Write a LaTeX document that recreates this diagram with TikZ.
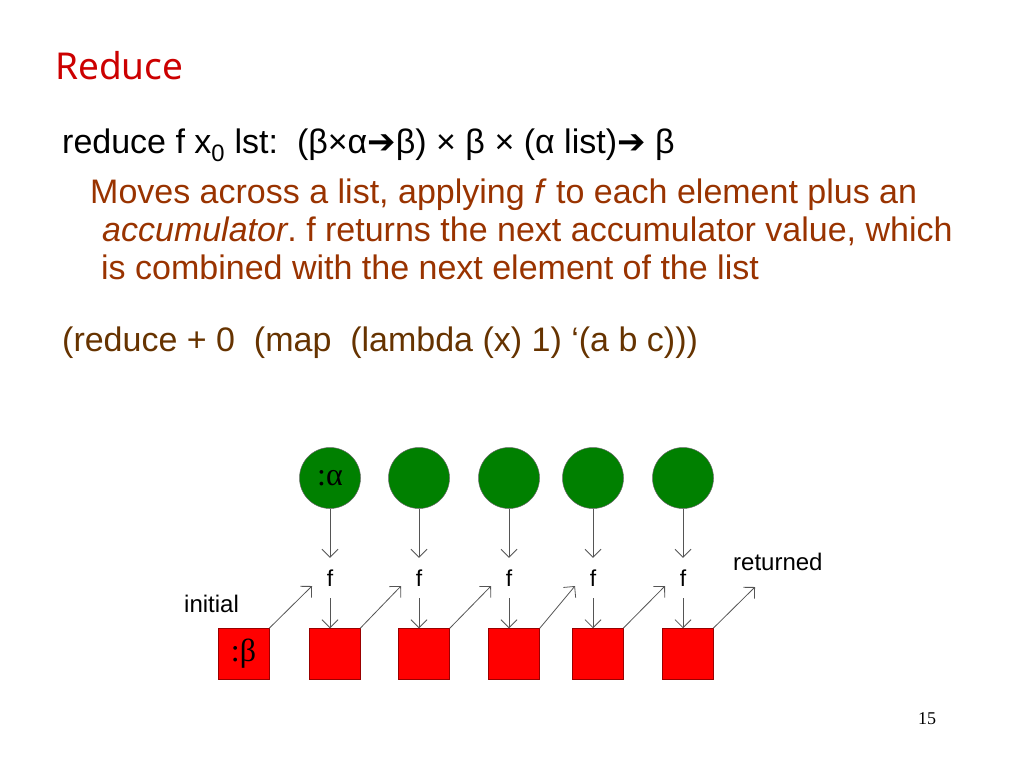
\documentclass[tikz,border=0pt]{standalone}
\usepackage{fontspec}
\setmainfont{Liberation Sans}
\newfontfamily\titlefont{Noto Sans}
\newfontfamily\serifgreek{Liberation Serif}
\newfontfamily\arrowfont{DejaVu Sans}
\usepackage{xcolor}
\definecolor{titlered}{RGB}{204, 0, 0}
\definecolor{notebrown}{RGB}{153, 51, 0}
\definecolor{codebrown}{RGB}{102, 51, 0}
\definecolor{elemgreen}{RGB}{0, 128, 0}
\definecolor{accred}{RGB}{255, 0, 0}
\definecolor{linegray}{RGB}{85, 85, 85}
\usetikzlibrary{arrows.meta, positioning, calc}
\frenchspacing

\newcommand{\bigto}{{\arrowfont ➔}}

\begin{document}
\begin{tikzpicture}[
    x=1pt, y=-1pt,
    line/.style={anchor=base west, inner sep=0pt, font=\fontsize{34}{38}\selectfont},
    elem/.style={circle, fill=elemgreen, draw=black!60, line width=0.5pt, minimum size=61pt, inner sep=0pt,
        font=\serifgreek\fontsize{32}{32}\selectfont},
    acc/.style={rectangle, fill=accred, draw=red!60!black, line width=0.5pt, minimum size=51pt, inner sep=0pt,
        font=\serifgreek\fontsize{32}{32}\selectfont},
    fun/.style={inner sep=0pt, minimum width=36pt, minimum height=40pt, font=\fontsize{23}{23}\selectfont},
    label/.style={anchor=base west, inner sep=0pt, font=\fontsize{24}{24}\selectfont},
    flow/.style={-{Straight Barb[length=8pt, width=16pt]}, linegray, line width=0.8pt}
]
    \useasboundingbox (0,0) rectangle (1024,768);

    % Title and text
    \node[anchor=base west, inner sep=0pt, text=titlered, font=\titlefont\fontsize{37}{37}\selectfont] (title) at (55,79) {Reduce};
    \node[line] (sig) at (62,153)
        {reduce f x\textsubscript{0} lst:\ \ (β×α\bigto β) × β × (α list)\bigto\ β};
    \node[line, text=notebrown] (desc1) at (90,203) {Moves across a list, applying \textit{f} to each element plus an};
    \node[line, text=notebrown] (desc2) at (102,241) {\textit{accumulator}. f returns the next accumulator value, which};
    \node[line, text=notebrown] (desc3) at (101,279) {is combined with the next element of the list};
    \node[line, text=codebrown] (code) at (62,351) {(reduce + 0\ \ (map\ \ (lambda (x) 1) ‘(a b c)))};

    % List elements
    \node[elem] (e1) at (330,478) {:α};
    \node[elem] (e2) at (419,478) {};
    \node[elem] (e3) at (509,478) {};
    \node[elem] (e4) at (593,478) {};
    \node[elem] (e5) at (683,478) {};

    % Applications of f
    \node[fun] (f1) at (330,578) {f};
    \node[fun] (f2) at (419,578) {f};
    \node[fun] (f3) at (509,578) {f};
    \node[fun] (f4) at (593,578) {f};
    \node[fun] (f5) at (683,578) {f};

    % Accumulators
    \node[acc] (a0) at (243.5,654) {:β};
    \node[acc] (a1) at (334.5,654) {};
    \node[acc] (a2) at (424,654) {};
    \node[acc] (a3) at (514,654) {};
    \node[acc] (a4) at (597.5,654) {};
    \node[acc] (a5) at (687.5,654) {};

    \node[label] (initial) at (184,612) {initial};
    \node[label] (returned) at (733,570) {returned};
    \coordinate (ret) at (755,587);

    \draw[flow] (e1) -- (f1.north);
    \draw[flow] (e2) -- (f2.north);
    \draw[flow] (e3) -- (f3.north);
    \draw[flow] (e4) -- (f4.north);
    \draw[flow] (e5) -- (f5.north);

    \draw[flow] (f1.south) -- (f1.south |- a1.north);
    \draw[flow] (f2.south) -- (f2.south |- a2.north);
    \draw[flow] (f3.south) -- (f3.south |- a3.north);
    \draw[flow] (f4.south) -- (f4.south |- a4.north);
    \draw[flow] (f5.south) -- (f5.south |- a5.north);

    \draw[flow] (a0.north east) -- ([xshift=-18pt, yshift=-8pt]f1.center);
    \draw[flow] (a1.north east) -- ([xshift=-18pt, yshift=-8pt]f2.center);
    \draw[flow] (a2.north east) -- ([xshift=-18pt, yshift=-8pt]f3.center);
    \draw[flow] (a3.north east) -- ([xshift=-18pt, yshift=-8pt]f4.center);
    \draw[flow] (a4.north east) -- ([xshift=-18pt, yshift=-8pt]f5.center);
    \draw[flow] (a5.north east) -- (ret);

    % Page number
    \node[anchor=base west, inner sep=0pt, font=\serifgreek\fontsize{18}{18}\selectfont] (page) at (918,724) {15};
\end{tikzpicture}
\end{document}
